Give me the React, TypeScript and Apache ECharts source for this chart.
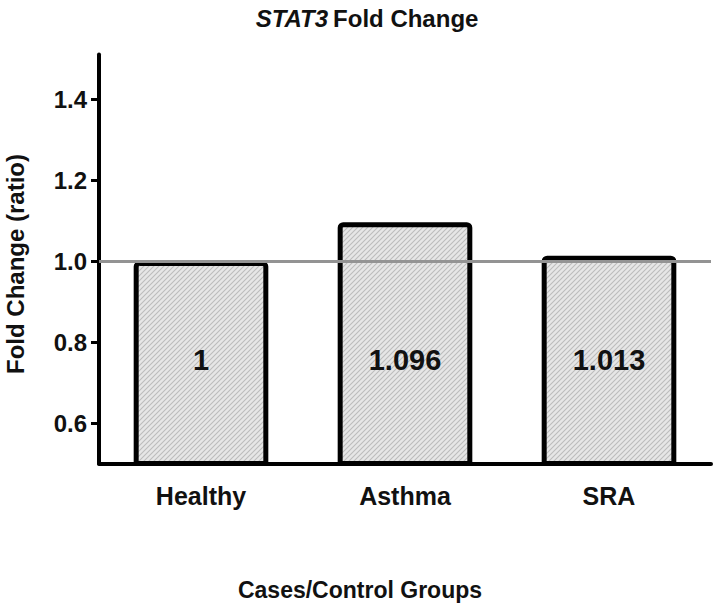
import React, { useEffect, useRef } from "react";
import * as echarts from "echarts";

const categories = ["Healthy", "Asthma", "SRA"];
const foldChange = [1, 1.096, 1.013];
const valueLabels = ["1", "1.096", "1.013"];
const yTicks = [0.6, 0.8, 1.0, 1.2, 1.4];
const referenceValue = 1.0;

const FONT = "'Liberation Sans', Arial, Helvetica, sans-serif";

function makeHatch(): string {
  const s = 5;
  const c = document.createElement("canvas");
  c.width = s;
  c.height = s;
  const ctx = c.getContext("2d")!;
  ctx.fillStyle = "#e6e6e6";
  ctx.fillRect(0, 0, s, s);
  ctx.strokeStyle = "#bcbcbc";
  ctx.lineWidth = 1.1;
  ctx.beginPath();
  ctx.moveTo(-1, s + 1);
  ctx.lineTo(s + 1, -1);
  ctx.moveTo(-1, 1);
  ctx.lineTo(1, -1);
  ctx.moveTo(s - 1, s + 1);
  ctx.lineTo(s + 1, s - 1);
  ctx.stroke();
  return c.toDataURL();
}

export default function App() {
  const ref = useRef<HTMLDivElement>(null);
  useEffect(() => {
    document.body.style.margin = "0";
    const chart = echarts.init(ref.current!, null, { renderer: "svg" });
    const hatch = makeHatch();
    chart.setOption({
      animation: false,
      title: {
        text: "{a|STAT3} {b|Fold Change}",
        left: 362,
        textAlign: "center",
        top: 1,
        textStyle: {
          rich: {
            a: { fontFamily: FONT, fontSize: 24, fontWeight: "bold", fontStyle: "italic", color: "#111" },
            b: { fontFamily: FONT, fontSize: 24, fontWeight: "bold", color: "#111" },
          },
        },
      },
      grid: { left: 99, right: 5, top: 54.5, bottom: 143.5, containLabel: false },
      xAxis: {
        type: "category",
        data: categories,
        axisLine: { lineStyle: { color: "#000", width: 4 } },
        axisTick: { alignWithLabel: true, length: 8, lineStyle: { color: "#000", width: 3 } },
        axisLabel: { margin: 20, color: "#111", fontSize: 25, fontWeight: "bold", fontFamily: FONT },
      },
      yAxis: {
        type: "value",
        min: 0.5,
        max: 1.51,
        splitLine: { show: false },
        axisLine: { show: true, lineStyle: { color: "#000", width: 4 } },
        axisTick: { show: true, length: 8, customValues: yTicks, lineStyle: { color: "#000", width: 3 } },
        axisLabel: {
          customValues: yTicks,
          margin: 12,
          color: "#111",
          fontSize: 24,
          fontWeight: "bold",
          fontFamily: FONT,
          formatter: (v: number) => v.toFixed(1),
        },
      },
      graphic: [
        {
          type: "text",
          x: 15,
          y: 264,
          rotation: Math.PI / 2,
          style: {
            text: "Fold Change (ratio)",
            fontFamily: FONT,
            fontSize: 24,
            fontWeight: "bold",
            fill: "#111",
            align: "center",
            verticalAlign: "middle",
          },
        },
        {
          type: "text",
          x: 360,
          y: 590,
          style: {
            text: "Cases/Control Groups",
            fontFamily: FONT,
            fontSize: 23,
            fontWeight: "bold",
            fill: "#111",
            align: "center",
            verticalAlign: "middle",
          },
        },
      ],
      series: [
        {
          type: "bar",
          data: foldChange,
          barCategoryGap: "34%",
          itemStyle: {
            color: { image: hatch, repeat: "repeat" },
            borderColor: "#000",
            borderWidth: 5,
            borderRadius: [3, 3, 0, 0],
          },
          label: {
            show: true,
            position: "insideBottom",
            distance: 92,
            formatter: (p: any) => valueLabels[p.dataIndex],
            color: "#111",
            fontSize: 29,
            fontWeight: "bold",
            fontFamily: FONT,
          },
          markLine: {
            silent: true,
            symbol: "none",
            z: 10,
            label: { show: false },
            lineStyle: { color: "#939393", width: 3, type: "solid" },
            data: [{ yAxis: referenceValue }],
          },
        },
      ],
    });
    return () => chart.dispose();
  }, []);
  return <div ref={ref} style={{ width: 716, height: 607 }} />;
}
